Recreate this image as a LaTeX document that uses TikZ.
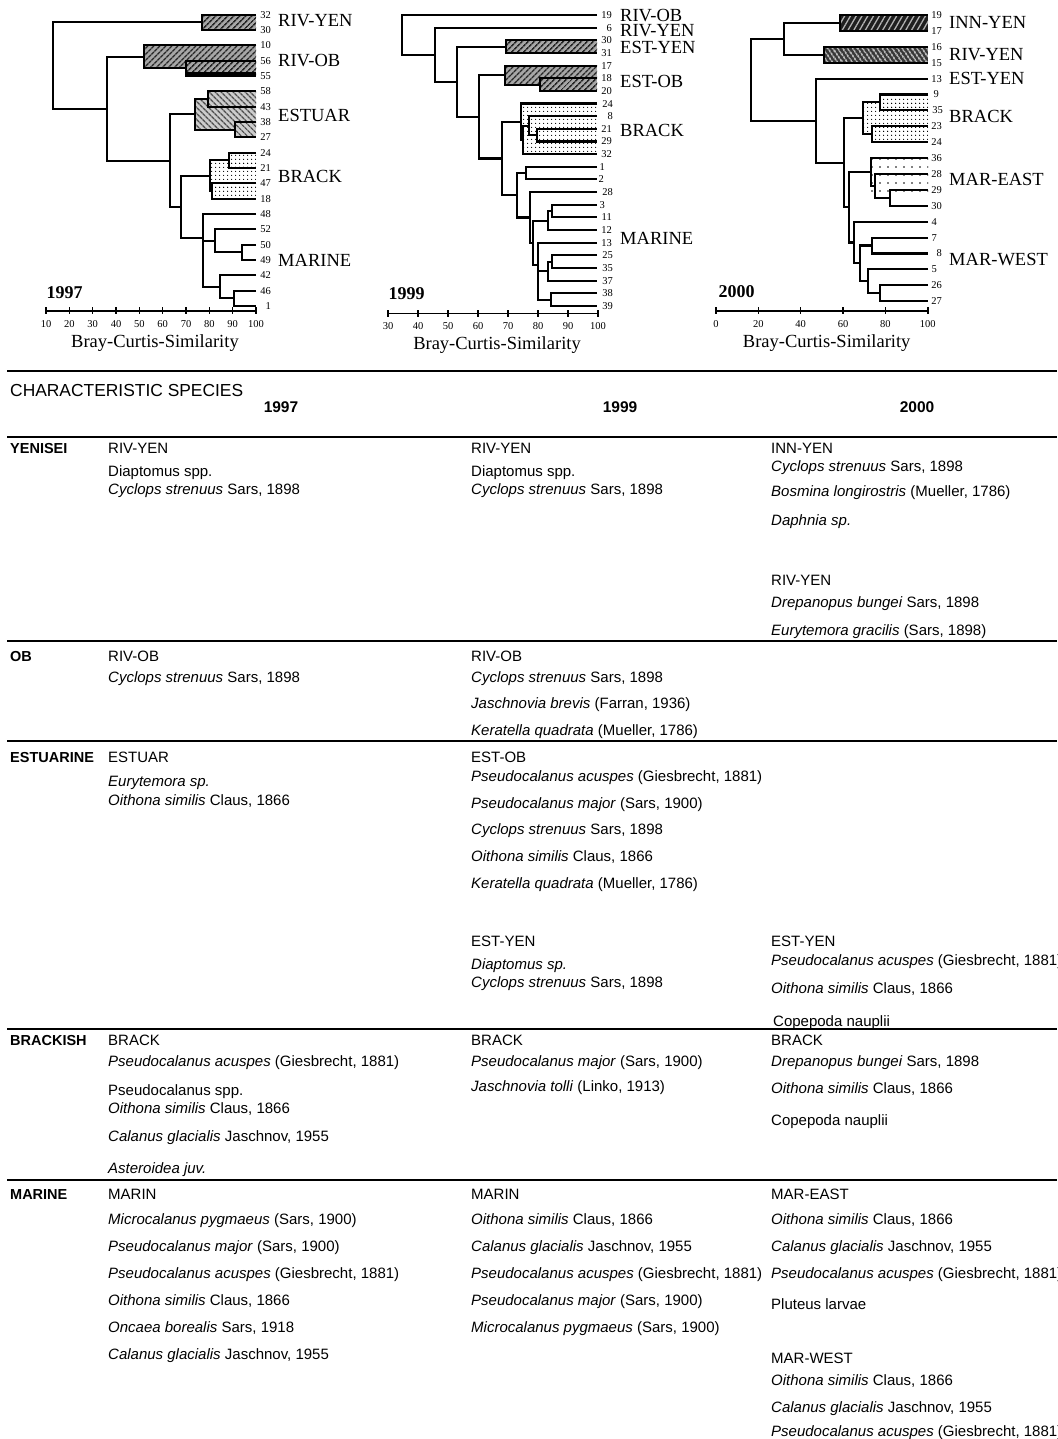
\documentclass[tikz,border=0pt]{standalone}
\usepackage{fontspec}
\setmainfont{Liberation Sans}
\newfontfamily\tms{Liberation Serif}
\usetikzlibrary{patterns.meta}

\begin{document}
\begin{tikzpicture}[x=1pt, y=-1pt,
  den/.style={line width=2.1},
  axis/.style={line width=1.6},
  rule/.style={line width=2.2},
  leaf/.style={font=\tms\fontsize{10.5}{11}\selectfont, inner sep=0, anchor=east},
  grp/.style={font=\tms\fontsize{18.5}{19}\selectfont, anchor=west, inner sep=0},
  ticklab/.style={font=\tms\fontsize{10.5}{11}\selectfont, inner sep=0},
  axlab/.style={font=\tms\fontsize{18.5}{19}\selectfont, inner sep=0},
  yearlab/.style={font=\tms\bfseries\fontsize{18}{19}\selectfont, inner sep=0},
  sp/.style={anchor=base west, inner sep=0, font=\fontsize{15}{17}\selectfont},
  rowlab/.style={anchor=base west, inner sep=0, font=\bfseries\fontsize{14.5}{17}\selectfont},
  colyear/.style={anchor=base, inner sep=0, font=\bfseries\fontsize{15.5}{17}\selectfont},
  hatA/.style={preaction={fill=black!35}, pattern={Lines[angle=45,distance=4pt,line width=1.6pt]}, pattern color=black!85},
  hatB/.style={preaction={fill=black!20}, pattern={Lines[angle=-45,distance=4pt,line width=1.4pt]}, pattern color=black!70},
  darkA/.style={preaction={fill=black!88}, pattern={Lines[angle=60,distance=5pt,line width=1.3pt]}, pattern color=white!70!black},
  darkB/.style={preaction={fill=black!78}, pattern={Lines[angle=-55,distance=4pt,line width=1.3pt]}, pattern color=white},
  dotsA/.style={pattern={Dots[distance=4pt,radius=0.7pt]}, pattern color=black},
  dotsB/.style={pattern={Dots[distance=8pt,radius=0.8pt]}, pattern color=black}
]
\useasboundingbox (0,0) rectangle (1057,1439);
\clip (0,0) rectangle (1057,1439);

% ---------- dendrogram 1997
\path[hatA] (202,14.7) rectangle (256,30.0);
\path[hatA] (144,45.4) rectangle (256,68.35);
\path[hatA] (186,60.7) rectangle (256,76.0);
\path[hatB] (195,99.05) rectangle (256,129.65);
\path[hatB] (208,91.4) rectangle (256,106.7);
\path[hatB] (235,122.0) rectangle (256,137.3);
\path[dotsA] (210,160.35) rectangle (256,191.0);
\path[dotsA] (229,152.7) rectangle (256,168.0);
\path[dotsA] (212,183.3) rectangle (256,198.7);
\fill (186,72) rectangle (256,76.5);

\draw[den] (256,14.7) -| (202,30.0) -- (256,30.0);
\draw[den] (256,60.7) -| (186,76.0) -- (256,76.0);
\draw[den] (256,45.4) -| (144,68.35) -- (186,68.35);
\draw[den] (256,91.4) -| (208,106.7) -- (256,106.7);
\draw[den] (256,122.0) -| (235,137.3) -- (256,137.3);
\draw[den] (208,99.05) -| (195,129.65) -- (235,129.65);
\draw[den] (256,152.7) -| (229,168.0) -- (256,168.0);
\draw[den] (256,183.3) -| (212,198.7) -- (256,198.7);
\draw[den] (229,160.35) -| (210,191.0) -- (212,191.0);
\draw[den] (256,244.7) -| (241.7,260.0) -- (256,260.0);
\draw[den] (256,229.3) -| (215,252.35) -- (241.7,252.35);
\draw[den] (256,290.6) -| (234.3,306.0) -- (256,306.0);
\draw[den] (256,275.3) -| (220,298.3) -- (234.3,298.3);
\draw[den] (256,214.0) -| (203,286.8) -- (220,286.8);
\draw[den] (203,240.8) -- (215,240.8);
\draw[den] (210,175.7) -| (181,238) -- (203,238);
\draw[den] (195,114.35) -| (170,206.9) -- (181,206.9);
\draw[den] (144,56.9) -| (107,160.6) -- (170,160.6);
\draw[den] (202,22.35) -| (53,108.75) -- (107,108.75);

\foreach \n [count=\k from 0] in {32,30,10,56,55,58,43,38,27,24,21,47,18,48,52,50,49,42,46,1}
  \node[leaf] (l97-\n) at (271,{14.7+15.33*\k}) {\n};

\node[grp] (g97-ry) at (278,20.3) {RIV-YEN};
\node[grp] (g97-ro) at (278,61) {RIV-OB};
\node[grp] (g97-es) at (278,115) {ESTUAR};
\node[grp] (g97-br) at (278,176) {BRACK};
\node[grp] (g97-ma) at (278,260) {MARINE};

\draw[axis] (46,310.7) -- (256,310.7);
\foreach \s in {10,20,...,100} {
  \draw[axis] ({46+(\s-10)*2.3333},307.3) -- ++(0,6.6);
  \node[ticklab] (t97-\s) at ({46+(\s-10)*2.3333},324) {\s};
}
\node[yearlab] (y97) at (64.5,292.7) {1997};
\node[axlab] (bc97) at (155,343) {Bray-Curtis-Similarity};

% ---------- dendrogram 1999
\path[hatA] (506,40.3) rectangle (597,52.95);
\path[hatA] (505,65.6) rectangle (597,84.6);
\path[hatA] (540,78.25) rectangle (597,90.9);
\path[dotsA] (521,103.55) rectangle (597,154.15);

\draw[den] (597,40.3) -| (506,52.95) -- (597,52.95);
\draw[den] (597,78.25) -| (540,90.9) -- (597,90.9);
\draw[den] (597,65.6) -| (505,84.6) -- (540,84.6);
\draw[den] (597,128.85) -| (536.7,141.5) -- (597,141.5);
\draw[den] (597,116.2) -| (529.3,135.2) -- (536.7,135.2);
\draw[den] (529.3,125.7) -| (523.3,154.15) -- (597,154.15);
\draw[den] (597,103.55) -| (521,139.9) -- (523.3,139.9);
\draw[den] (597,166.8) -| (525.7,179.45) -- (597,179.45);
\draw[den] (597,204.75) -| (551.7,217.4) -- (597,217.4);
\draw[den] (551.7,211.1) -| (547.7,230.05) -- (597,230.05);
\draw[den] (597,255.35) -| (551.7,268) -- (597,268);
\draw[den] (551.7,261.7) -| (548.3,280.65) -- (597,280.65);
\draw[den] (597,293.3) -| (551,305.95) -- (597,305.95);
\draw[den] (597,242.7) -| (538.3,299.6) -- (551,299.6);
\draw[den] (538.3,271.2) -- (548.3,271.2);
\draw[den] (547.7,220.6) -| (532.7,265) -- (538.3,265);
\draw[den] (597,192.1) -| (530,242.8) -- (532.7,242.8);
\draw[den] (525.7,173.1) -| (516.7,217.5) -- (530,217.5);
\draw[den] (521,121.7) -| (501.7,195.3) -- (516.7,195.3);
\draw[den] (505,75.1) -| (479.3,158.5) -- (501.7,158.5);
\draw[den] (506,46.6) -| (457.3,116.8) -- (479.3,116.8);
\draw[den] (597,27.65) -| (435,81.7) -- (457.3,81.7);
\draw[den] (597,15) -| (401.7,54.7) -- (435,54.7);

\foreach \n/\xx [count=\k from 0] in {19/612,6/612,30/612,31/612,17/612,18/612,20/612,24/613,8/613,21/612,29/612,32/612,1/605,2/604,28/613,3/605,11/612,12/612,13/612,25/613,35/613,37/613,38/613,39/613}
  \node[leaf] (l99-\n) at (\xx,{15+12.65*\k}) {\n};

\node[grp] (g99-ro) at (620,16) {RIV-OB};
\node[grp] (g99-ry) at (620,31) {RIV-YEN};
\node[grp] (g99-ey) at (620,47) {EST-YEN};
\node[grp] (g99-eo) at (620,81) {EST-OB};
\node[grp] (g99-br) at (620,130.7) {BRACK};
\node[grp] (g99-ma) at (620,238.3) {MARINE};

\draw[axis] (388,313.3) -- (598,313.3);
\foreach \s in {30,40,...,100} {
  \draw[axis] ({388+(\s-30)*3},310) -- ++(0,6.6);
  \node[ticklab] (t99-\s) at ({388+(\s-30)*3},326) {\s};
}
\node[yearlab] (y99) at (406.7,294) {1999};
\node[axlab] (bc99) at (497,345) {Bray-Curtis-Similarity};

% ---------- dendrogram 2000
\path[darkA] (840,15) rectangle (928,30.9);
\path[darkB] (824.3,46.8) rectangle (928,62.7);
\path[dotsA] (863.3,102.45) rectangle (928,134.25);
\path[dotsA] (880,94.5) rectangle (928,110.4);
\path[dotsA] (871.7,126.3) rectangle (928,142.2);
\path[dotsB] (871,158.1) rectangle (928,197.85);

\draw[den] (928,15) -| (840,30.9) -- (928,30.9);
\draw[den] (928,46.8) -| (824.3,62.7) -- (928,62.7);
\draw[den] (840,22.95) -| (784,54.75) -- (824.3,54.75);
\draw[den] (928,94.5) -| (880,110.4) -- (928,110.4);
\draw[den] (928,126.3) -| (871.7,142.2) -- (928,142.2);
\draw[den] (880,102.45) -| (863.3,134.25) -- (871.7,134.25);
\draw[den] (928,189.9) -| (890,205.8) -- (928,205.8);
\draw[den] (928,174) -| (875,197.85) -- (890,197.85);
\draw[den] (928,158.1) -| (871,185.9) -- (875,185.9);
\draw[den] (928,237.6) -| (871.7,253.5) -- (928,253.5);
\draw[den] (928,285.3) -| (880,301.2) -- (928,301.2);
\draw[den] (928,269.4) -| (868.3,293.25) -- (880,293.25);
\draw[den] (871.7,245.55) -| (860,281.3) -- (868.3,281.3);
\draw[den] (928,221.7) -| (854,263.4) -- (860,263.4);
\draw[den] (871,172.0) -| (849,242.55) -- (854,242.55);
\draw[den] (863.3,118.35) -| (844,207.3) -- (849,207.3);
\draw[den] (928,78.6) -| (815.7,162.8) -- (844,162.8);
\draw[den] (784,38.85) -| (750.7,120.7) -- (815.7,120.7);

\foreach \n/\xx [count=\k from 0] in {19/942,17/942,16/942,15/942,13/942,9/939,35/943,23/942,24/942,36/942,28/942,29/942,30/942,4/937,7/937,8/942,5/937,26/942,27/942}
  \node[leaf] (l00-\n) at (\xx,{15+15.9*\k}) {\n};

\node[grp] (g00-iy) at (949,22.7) {INN-YEN};
\node[grp] (g00-ry) at (949,55) {RIV-YEN};
\node[grp] (g00-ey) at (949,78.3) {EST-YEN};
\node[grp] (g00-br) at (949,116) {BRACK};
\node[grp] (g00-me) at (949,179.3) {MAR-EAST};
\node[grp] (g00-mw) at (949,259.3) {MAR-WEST};

\draw[axis] (716,310.7) -- (927.7,310.7);
\foreach \s in {0,20,...,100} {
  \draw[axis] ({716+\s*2.117},307.3) -- ++(0,6.6);
  \node[ticklab] (t00-\s) at ({716+\s*2.117},324) {\s};
}
\node[yearlab] (y00) at (736.7,291.7) {2000};
\node[axlab] (bc00) at (826.7,343) {Bray-Curtis-Similarity};

% ---------- table of characteristic species
\draw[rule] (7,371) -- (1057,371);
\node[anchor=base west, inner sep=0, font=\fontsize{17.4}{19}\selectfont] (head) at (10,396) {CHARACTERISTIC SPECIES};
\node[colyear] (h97) at (281,412) {1997};
\node[colyear] (h99) at (620,412) {1999};
\node[colyear] (h00) at (917,412) {2000};
\draw[rule] (7,437) -- (1057,437);
\draw[rule] (7,641) -- (1057,641);
\draw[rule] (7,741) -- (1057,741);
\draw[rule] (7,1029) -- (1057,1029);
\draw[rule] (7,1180) -- (1057,1180);

\node[rowlab] (r-yen) at (10,453) {YENISEI};
\node[rowlab] (r-ob) at (10,661) {OB};
\node[rowlab] (r-est) at (10,762) {ESTUARINE};
\node[rowlab] (r-br) at (10,1045) {BRACKISH};
\node[rowlab] (r-ma) at (10,1199) {MARINE};

% 1997 column
\foreach \yy/\t [count=\k] in {
  453/{RIV-YEN}, 476/{Diaptomus spp.}, 494/{\textit{Cyclops strenuus} Sars, 1898},
  661/{RIV-OB}, 682/{\textit{Cyclops strenuus} Sars, 1898},
  762/{ESTUAR}, 786/{\textit{Eurytemora sp.}}, 805/{\textit{Oithona similis} Claus, 1866},
  1045/{BRACK}, 1066/{\textit{Pseudocalanus acuspes} (Giesbrecht, 1881)}, 1095/{Pseudocalanus spp.},
  1113/{\textit{Oithona similis} Claus, 1866}, 1141/{\textit{Calanus glacialis} Jaschnov, 1955},
  1173/{\textit{Asteroidea juv.}},
  1199/{MARIN}, 1224/{\textit{Microcalanus pygmaeus} (Sars, 1900)}, 1251/{\textit{Pseudocalanus major} (Sars, 1900)},
  1278/{\textit{Pseudocalanus acuspes} (Giesbrecht, 1881)}, 1305/{\textit{Oithona similis} Claus, 1866},
  1332/{\textit{Oncaea borealis} Sars, 1918}, 1359/{\textit{Calanus glacialis} Jaschnov, 1955}}
  \node[sp] (c97-\k) at (108,\yy) {\t};

% 1999 column
\foreach \yy/\t [count=\k] in {
  453/{RIV-YEN}, 476/{Diaptomus spp.}, 494/{\textit{Cyclops strenuus} Sars, 1898},
  661/{RIV-OB}, 682/{\textit{Cyclops strenuus} Sars, 1898}, 708/{\textit{Jaschnovia brevis} (Farran, 1936)},
  735/{\textit{Keratella quadrata} (Mueller, 1786)},
  762/{EST-OB}, 781/{\textit{Pseudocalanus acuspes} (Giesbrecht, 1881)}, 808/{\textit{Pseudocalanus major} (Sars, 1900)},
  834/{\textit{Cyclops strenuus} Sars, 1898}, 861/{\textit{Oithona similis} Claus, 1866},
  888/{\textit{Keratella quadrata} (Mueller, 1786)},
  946/{EST-YEN}, 969/{\textit{Diaptomus sp.}}, 987/{\textit{Cyclops strenuus} Sars, 1898},
  1045/{BRACK}, 1066/{\textit{Pseudocalanus major} (Sars, 1900)}, 1091/{\textit{Jaschnovia tolli} (Linko, 1913)},
  1199/{MARIN}, 1224/{\textit{Oithona similis} Claus, 1866}, 1251/{\textit{Calanus glacialis} Jaschnov, 1955},
  1278/{\textit{Pseudocalanus acuspes} (Giesbrecht, 1881)}, 1305/{\textit{Pseudocalanus major} (Sars, 1900)},
  1332/{\textit{Microcalanus pygmaeus} (Sars, 1900)}}
  \node[sp] (c99-\k) at (471,\yy) {\t};

% 2000 column
\foreach \yy/\t [count=\k] in {
  453/{INN-YEN}, 471/{\textit{Cyclops strenuus} Sars, 1898}, 496/{\textit{Bosmina longirostris} (Mueller, 1786)},
  525/{\textit{Daphnia sp.}}, 585/{RIV-YEN}, 607/{\textit{Drepanopus bungei} Sars, 1898},
  635/{\textit{Eurytemora gracilis} (Sars, 1898)},
  946/{EST-YEN}, 965/{\textit{Pseudocalanus acuspes} (Giesbrecht, 1881)}, 993/{\textit{Oithona similis} Claus, 1866},
  1045/{BRACK}, 1066/{\textit{Drepanopus bungei} Sars, 1898}, 1093/{\textit{Oithona similis} Claus, 1866},
  1125/{Copepoda nauplii},
  1199/{MAR-EAST}, 1224/{\textit{Oithona similis} Claus, 1866}, 1251/{\textit{Calanus glacialis} Jaschnov, 1955},
  1278/{\textit{Pseudocalanus acuspes} (Giesbrecht, 1881)}, 1309/{Pluteus larvae},
  1363/{MAR-WEST}, 1385/{\textit{Oithona similis} Claus, 1866}, 1412/{\textit{Calanus glacialis} Jaschnov, 1955},
  1436/{\textit{Pseudocalanus acuspes} (Giesbrecht, 1881)}}
  \node[sp] (c00-\k) at (771,\yy) {\t};
\node[sp] (c00-cop) at (773,1026) {Copepoda nauplii};
\end{tikzpicture}
\end{document}
